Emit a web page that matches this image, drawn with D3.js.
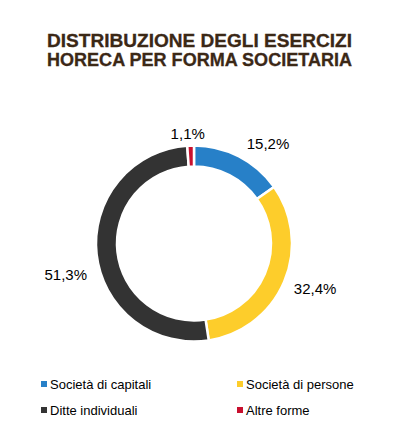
<!DOCTYPE html>
<html>
<head>
<meta charset="utf-8">
<script src="https://cdn.jsdelivr.net/npm/d3@7"></script>
<style>
	html, body { margin: 0; padding: 0; background: #fff; }
</style>
</head>
<body>
<div class="donut_chart"></div>
<script>
	// dati del grafico
	const categories = ['Società di capitali', 'Società di persone', 'Ditte individuali', 'Altre forme'];
	const values = [15.2, 32.4, 51.3, 1.1];
	const labels = ['15,2%', '32,4%', '51,3%', '1,1%'];
	const titleLines = ['DISTRIBUZIONE DEGLI ESERCIZI', 'HORECA PER FORMA SOCIETARIA'];

	const colors = ['#2780c8', '#fdcd2b', '#333333', '#c8102e'];
	// spostamenti manuali delle etichette (come nel foglio originale)
	const labelNudge = [[17, 10], [7, -3], [-5, 17], [-2, 14]];

	const width = 398;
	const height = 443;
	const cx = 194;
	const cy = 243.5;
	const outerR = 98;
	const innerR = 77;

	const svg = d3.select('.donut_chart').append('svg').attr('width', width).attr('height', height);

	svg
		.selectAll('.title')
		.data(titleLines)
		.enter()
		.append('text')
		.attr('class', 'title')
		.attr('x', 199.5)
		.attr('y', (d, i) => 47 + i * 19)
		.attr('text-anchor', 'middle')
		.attr('textLength', 305)
		.attr('lengthAdjust', 'spacingAndGlyphs')
		.style('font-family', 'Liberation Sans, Arial, sans-serif')
		.style('font-weight', 'bold')
		.style('font-size', '19px')
		.style('fill', '#3b2816')
		.style('stroke', '#3b2816')
		.style('stroke-width', 0.3)
		.text(d => d);

	const pie = d3.pie().sort(null).value(d => d);
	const arcs = pie(values);
	const arc = d3.arc().innerRadius(innerR).outerRadius(outerR);
	const labelArc = d3.arc().innerRadius(124).outerRadius(124);

	const g = svg.append('g').attr('transform', `translate(${cx},${cy})`);

	g.selectAll('path')
		.data(arcs)
		.enter()
		.append('path')
		.attr('d', arc)
		.attr('fill', (d, i) => colors[i])
		.attr('stroke', '#fff')
		.attr('stroke-width', 2.5);

	g.selectAll('.lbl')
		.data(arcs)
		.enter()
		.append('text')
		.attr('class', 'lbl')
		.attr('transform', (d, i) => {
			const c = labelArc.centroid(d);
			return `translate(${c[0] + labelNudge[i][0]},${c[1] + labelNudge[i][1]})`;
		})
		.attr('text-anchor', 'middle')
		.attr('dy', '0.36em')
		.style('font-family', 'Liberation Sans, Arial, sans-serif')
		.style('font-size', '15px')
		.style('fill', '#000')
		.text((d, i) => labels[i]);

	// legenda
	const legend = svg
		.selectAll('.legend')
		.data(categories)
		.enter()
		.append('g')
		.attr('class', 'legend')
		.attr('transform', (d, i) => `translate(${i % 2 === 0 ? 41 : 237},${381 + Math.floor(i / 2) * 26})`);

	legend
		.append('rect')
		.attr('width', 6)
		.attr('height', 6)
		.attr('fill', (d, i) => colors[i]);

	legend
		.append('text')
		.attr('x', 9)
		.attr('y', 8)
		.style('font-family', 'Liberation Sans, Arial, sans-serif')
		.style('font-size', '13px')
		.style('fill', '#000')
		.text(d => d);
</script>
</body>
</html>
